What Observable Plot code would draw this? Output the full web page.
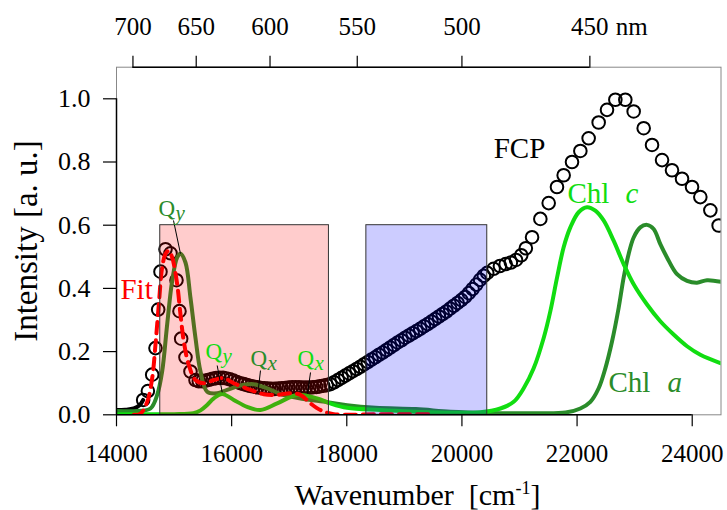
<!DOCTYPE html>
<html><head><meta charset="utf-8">
<script src="https://cdn.jsdelivr.net/npm/d3@7"></script>
<script src="https://cdn.jsdelivr.net/npm/@observablehq/plot@0.6"></script>
<style>body{margin:0;background:#fff} svg{display:block} svg text{font-family:"Liberation Serif","Times New Roman",serif !important}</style>
</head><body><div id="chart"></div>
<script>
// ---- data (wavenumber in cm^-1, intensity in a.u.) ----
const fcpWn = [14463,14545,14620,14677,14724,14764,14851,14938,15042,15094,15123,15198,15285,15372,
  15430,15490,15550,15610,15670,15730,15790,15850,15910,15970,16030,16090,16150,16210,16270,16330,16390,16450,16510,16570,16630,16690,16750,16810,16870,16930,16990,17050,17110,17170,17230,17290,17350,17410,17470,17530,17590,17650,17716,
  17780,17845,17910,17975,18040,18105,18170,18235,18300,18365,18430,18495,18560,18625,18690,18755,18820,18885,18950,19015,19080,19145,19210,19275,19340,19405,19470,19535,19600,19665,19730,19795,19860,19925,19990,20055,20120,20185,20250,20315,20380,20440,
  20550,20660,20760,20850,20940,21030,21110,21218,
  21362,21507,21651,21767,21912,22057,22201,22375,22520,22665,22838,22983,23157,23302,23476,23649,23823,23997,24141,24315,24459];
const fcpInt = [0.047,0.075,0.127,0.211,0.333,0.453,0.524,0.511,0.426,0.328,0.241,0.182,0.137,0.110,
  0.106,0.106,0.108,0.111,0.114,0.116,0.117,0.117,0.115,0.112,0.108,0.104,0.100,0.097,0.094,0.091,0.089,0.087,0.085,0.084,0.083,0.082,0.082,0.083,0.084,0.085,0.086,0.087,0.087,0.087,0.086,0.086,0.086,0.087,0.088,0.090,0.092,0.094,0.097,
  0.103,0.110,0.117,0.124,0.131,0.138,0.145,0.152,0.160,0.167,0.175,0.182,0.190,0.197,0.205,0.213,0.221,0.229,0.236,0.244,0.251,0.258,0.265,0.272,0.280,0.287,0.295,0.303,0.311,0.319,0.327,0.336,0.345,0.354,0.363,0.373,0.385,0.398,0.412,0.427,0.440,0.449,
  0.462,0.471,0.477,0.482,0.490,0.505,0.527,0.562,
  0.620,0.670,0.721,0.758,0.800,0.835,0.875,0.925,0.965,0.997,0.997,0.960,0.907,0.854,0.806,0.774,0.747,0.721,0.689,0.647,0.599];
const fcpTailWn  = [14000,14150,14300,14400,14463];
const fcpTailInt = [0.015,0.016,0.020,0.030,0.047];

const fitWn  = [14300,14417,14533,14620,14677,14735,14793,14851,14908,14967,15054,15111,15169,15255,15372,15516,15690,15863,16037,16327,16558,16790,17021,17195,17369,17542,17773,18500,19500];
const fitInt = [0.000,0.004,0.041,0.116,0.222,0.349,0.466,0.509,0.519,0.498,0.413,0.318,0.232,0.158,0.110,0.100,0.110,0.116,0.100,0.079,0.065,0.063,0.068,0.063,0.036,0.015,0.002,0.002,0.002];

const chlCWn  = [14000,14500,15000,15337,15460,15575,15690,15835,16037,16269,16500,16790,17138,17485,17716,18006,18584,19452,20321,20668,20899,21073,21246,21420,21536,21652,21767,21883,22027,22173,22317,22461,22635,22809,22983,23215,23446,23677,23910,24141,24500];
const chlCInt = [0.002,0.002,0.002,0.005,0.014,0.031,0.052,0.066,0.047,0.025,0.015,0.036,0.063,0.052,0.036,0.022,0.015,0.008,0.008,0.020,0.041,0.084,0.147,0.243,0.328,0.434,0.530,0.593,0.641,0.657,0.646,0.615,0.551,0.477,0.413,0.349,0.296,0.254,0.217,0.190,0.163];

const chlAWn  = [14000,14359,14590,14707,14793,14880,14967,15054,15111,15198,15285,15372,15459,15575,15749,15922,16210,16384,16617,16905,17252,17659,18006,18500,19200,19800,20500,21200,21800,22057,22231,22375,22491,22607,22722,22809,22896,22983,23098,23215,23330,23446,23562,23736,23910,24083,24257,24500];
const chlAInt = [0.012,0.012,0.020,0.063,0.137,0.286,0.424,0.498,0.510,0.482,0.370,0.243,0.137,0.073,0.068,0.079,0.095,0.097,0.084,0.062,0.050,0.040,0.030,0.022,0.018,0.010,0.006,0.005,0.007,0.020,0.041,0.084,0.147,0.232,0.338,0.434,0.509,0.561,0.593,0.601,0.588,0.540,0.498,0.445,0.424,0.418,0.426,0.421];

const bandStart = [14760, 18340];
const bandEnd   = [17690, 20440];
const bandTop   = [0.6, 0.6];
const bandName  = ["red", "blue"];

const xTicks  = [14000,16000,18000,20000,22000,24000];
const yTicks  = [0.0,0.2,0.4,0.6,0.8,1.0];
const nmTicks = [700,650,600,550,500,450];

// ---- styles ----
const serif = "Liberation Serif, Times New Roman, serif";
const chlCColor = "#11dd11";
const chlAColor = "#2a8c2a";
const bandColor = {red: "#ff0000", blue: "#0000ff"};

const zip = (xs, ys) => xs.map((x, i) => ({x, y: ys[i]}));
const fcp = zip(fcpWn, fcpInt);
const fcpTail = zip(fcpTailWn, fcpTailInt);
const fit = zip(fitWn, fitInt);
const chlC = zip(chlCWn, chlCInt);
const chlA = zip(chlAWn, chlAInt);
const bands = bandStart.map((s, i) => ({x1: s, x2: bandEnd[i], y2: bandTop[i], c: bandColor[bandName[i]]}));

// annotation anchors (data coordinates)
const centerLabels = [{t: "FCP", x: 21000, y: 0.814, c: "black"}];
const startLabels = [
  {t: "Fit", x: 14069, y: 0.368, c: "red"},
  {t: "Chl", x: 21834, y: 0.669, c: chlCColor},
  {t: "Chl", x: 22546, y: 0.071, c: chlAColor}
];
const italicLabels = [
  {t: "c", x: 22841, y: 0.669, c: chlCColor},
  {t: "a", x: 23571, y: 0.071, c: chlAColor}
];
const qLabels = [
  {sub: "y", x: 14730, y: 0.628, c: chlAColor},
  {sub: "y", x: 15546, y: 0.178, c: chlCColor},
  {sub: "x", x: 16328, y: 0.156, c: chlAColor},
  {sub: "x", x: 17144, y: 0.153, c: chlCColor}
];
const leaders = [
  {x1: 14990, y1: 0.615, x2: 15111, y2: 0.51},
  {x1: 15749, y1: 0.156, x2: 15836, y2: 0.071},
  {x1: 16501, y1: 0.140, x2: 16467, y2: 0.086},
  {x1: 17370, y1: 0.134, x2: 17318, y2: 0.067}
];

const plot = Plot.plot({
  width: 727, height: 510,
  marginLeft: 116, marginRight: 6.5, marginTop: 66.7, marginBottom: 95.7,
  style: {fontFamily: serif, fontSize: "25px", background: "white", color: "black", overflow: "visible"},
  x: {domain: [14000, 24500]},
  y: {domain: [0, 1.1]},
  marks: [
    Plot.frame({stroke: "#888", strokeWidth: 1}),
    Plot.line(fcpTail, {x: "x", y: "y", stroke: "black", strokeWidth: 4, curve: "catmull-rom", clip: true}),
    Plot.dot(fcp, {x: "x", y: "y", r: 6.3, stroke: "black", strokeWidth: 2, fill: "none", clip: true}),
    Plot.line(chlA, {x: "x", y: "y", stroke: chlAColor, strokeWidth: 4, curve: "catmull-rom", clip: true}),
    Plot.line(chlC, {x: "x", y: "y", stroke: chlCColor, strokeWidth: 4, curve: "catmull-rom", clip: true}),
    Plot.line(fit, {x: "x", y: "y", stroke: "red", strokeWidth: 4, strokeDasharray: "11,7", curve: "catmull-rom", clip: true}),
    Plot.rect(bands, {x1: "x1", x2: "x2", y1: 0, y2: "y2", fill: "c", fillOpacity: 0.2, stroke: "#333", strokeWidth: 1}),
    Plot.link(leaders, {x1: "x1", y1: "y1", x2: "x2", y2: "y2", stroke: "black", strokeWidth: 1}),
    Plot.text(centerLabels, {x: "x", y: "y", text: "t", fill: "c", textAnchor: "middle", fontSize: 29, lineAnchor: "bottom"}),
    Plot.text(startLabels, {x: "x", y: "y", text: "t", fill: "c", textAnchor: "start", fontSize: 29, lineAnchor: "bottom"}),
    Plot.text(italicLabels, {x: "x", y: "y", text: "t", fill: "c", textAnchor: "start", fontSize: 29, fontStyle: "italic", lineAnchor: "bottom"}),
    Plot.text(qLabels, {x: "x", y: "y", text: () => "Q", fill: "c", textAnchor: "start", fontSize: 23, lineAnchor: "bottom"}),
    Plot.text(qLabels, {x: "x", y: "y", text: "sub", fill: "c", textAnchor: "start", fontSize: 21, fontStyle: "italic", lineAnchor: "bottom", dx: 17, dy: 4}),
    // axis lines
    Plot.ruleY([0], {x1: xTicks[0], x2: xTicks[xTicks.length - 1], stroke: "black", strokeWidth: 1.5}),
    Plot.ruleX([xTicks[0]], {y1: yTicks[0], y2: yTicks[yTicks.length - 1], stroke: "black", strokeWidth: 1.5}),
    Plot.ruleY([1.1], {x1: 1e7 / nmTicks[0], x2: 1e7 / nmTicks[nmTicks.length - 1], stroke: "black", strokeWidth: 1.5}),
    Plot.axisX({anchor: "bottom", ticks: xTicks, tickFormat: d => String(d), tickSize: 12, tickPadding: 17, label: null, fontSize: 25, strokeWidth: 1.2}),
    Plot.axisX({anchor: "top", ticks: nmTicks.map(n => 1e7 / n), tickFormat: d => String(Math.round(1e7 / d)), tickSize: 12, tickPadding: 19.7, label: null, fontSize: 25, strokeWidth: 1.2}),
    Plot.axisY({ticks: yTicks, tickFormat: d3.format(".1f"), tickSize: 13, tickPadding: 13, label: null, fontSize: 26, strokeWidth: 1.2}),
    Plot.text(["nm"], {x: () => 1e7 / nmTicks[nmTicks.length - 1], frameAnchor: "top", text: d => d, textAnchor: "start", lineAnchor: "bottom", dx: 26, dy: -31.7, fontSize: 25})
  ]
});

const svg = d3.select(plot);
const xt = svg.append("text")
  .attr("x", 417.5).attr("y", 505)
  .attr("text-anchor", "middle")
  .style("font-size", "30px").attr("fill", "black");
xt.append("tspan").text("Wavenumber\u00a0\u00a0[cm");
xt.append("tspan").style("font-size", "18px").attr("dy", -11).text("-1");
xt.append("tspan").attr("dy", 11).text("]");

svg.append("text")
  .attr("transform", "translate(37,241) rotate(-90)")
  .attr("text-anchor", "middle")
  .style("font-size", "33px").attr("fill", "black")
  .text("Intensity [a. u.]");

svg.selectAll("text").style("font-family", serif);
document.getElementById("chart").appendChild(plot);
</script>
</body></html>
